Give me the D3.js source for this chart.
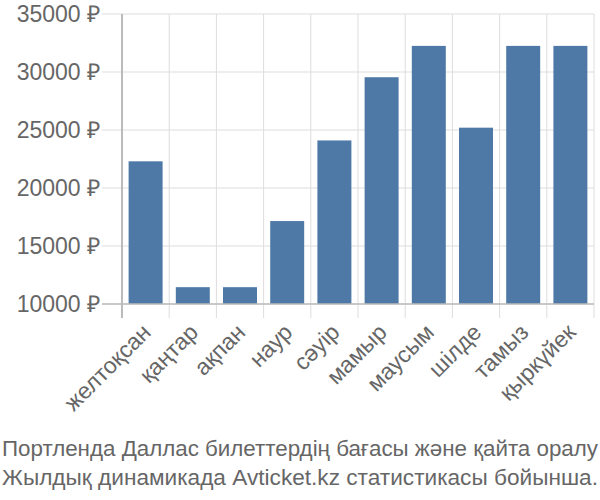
<!DOCTYPE html>
<html><head><meta charset="utf-8">
<script src="https://cdn.jsdelivr.net/npm/d3@7/dist/d3.min.js"></script>
<style>body{margin:0;background:#fff}svg{display:block}</style>
</head><body><svg id="c" width="600" height="500"></svg>
<script>
const months = ["желтоқсан","қаңтар","ақпан","наур","сәуір","мамыр","маусым","шілде","тамыз","қыркүйек"];
const prices = [22300,11450,11450,17150,24100,29550,32250,25200,32250,32250];
const yTicks = [10000,15000,20000,25000,30000,35000];
const titleLines = ["Портленда Даллас билеттердің бағасы және қайта оралу","Жылдық динамикада Avticket.kz статистикасы бойынша."];

const svg = d3.select("#c");
const pL=122, pR=594, pT=14, pB=304;
const x = d3.scaleBand().domain(months).range([pL,pR]).paddingInner(0.28).paddingOuter(0.14);
const y = d3.scaleLinear().domain([10000,35000]).range([pB,pT]);
const font = "'Liberation Sans', Arial, sans-serif";

svg.append("g").selectAll("line").data(yTicks).join("line")
  .attr("x1",pL-20).attr("x2",pR).attr("y1",d=>y(d)).attr("y2",d=>y(d))
  .attr("stroke","#ddd").attr("stroke-width",1);
const bounds = months.map(m=>x(m)-x.step()*x.paddingInner()/2).concat([pR]);
svg.append("g").selectAll("line").data(bounds).join("line")
  .attr("x1",d=>d).attr("x2",d=>d).attr("y1",pT).attr("y2",pB+14)
  .attr("stroke","#ddd").attr("stroke-width",1);

svg.append("g").selectAll("rect").data(prices).join("rect")
  .attr("x",(d,i)=>x(months[i])).attr("width",x.bandwidth())
  .attr("y",d=>y(d)).attr("height",d=>pB-y(d))
  .attr("fill","#4e79a7");

svg.append("line").attr("x1",pL).attr("x2",pL).attr("y1",pT).attr("y2",pB+14).attr("stroke","#aaa").attr("stroke-width",1.5);
svg.append("line").attr("x1",pL-20).attr("x2",pR).attr("y1",pB).attr("y2",pB).attr("stroke","#bbb").attr("stroke-width",1.5);

svg.append("g").selectAll("text").data(yTicks).join("text")
  .attr("x",pL-22).attr("y",d=>y(d)).attr("dy","0.35em")
  .attr("text-anchor","end").attr("font-family",font).attr("font-size",23).attr("fill","#666")
  .text(d=>d+" ₽");

svg.append("g").selectAll("text").data(months).join("text")
  .attr("transform",d=>`translate(${x(d)+x.bandwidth()/2+1},${pB+24}) rotate(-45)`)
  .attr("text-anchor","end").attr("dy","0.35em")
  .attr("font-family",font).attr("font-size",23).attr("fill","#666")
  .text(d=>d);

svg.append("g").selectAll("text").data(titleLines).join("text")
  .attr("x",2).attr("y",(d,i)=>456+i*29)
  .attr("font-family",font).attr("font-size",22).attr("fill","#666")
  .attr("textLength",596).attr("lengthAdjust","spacingAndGlyphs")
  .text(d=>d);
</script></body></html>
